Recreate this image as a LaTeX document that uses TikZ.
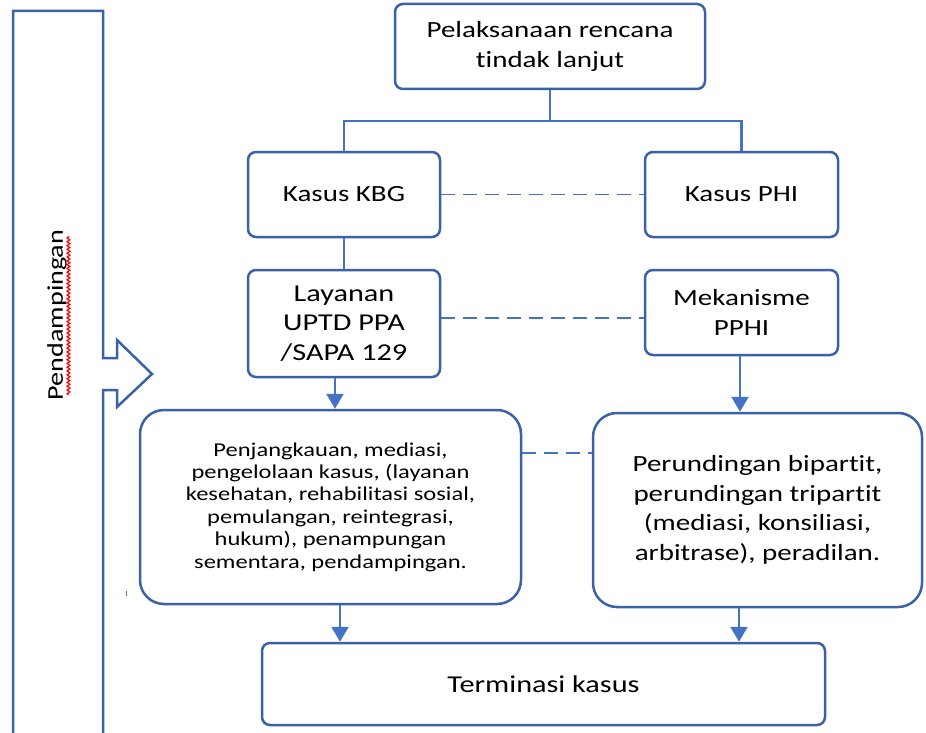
\documentclass[tikz,border=0pt]{standalone}
\usepackage{fontspec}
\setmainfont{Carlito}[FakeStretch=1.25, Ligatures=NoCommon]
\usetikzlibrary{arrows.meta,decorations.pathmorphing,calc}
\definecolor{boxblue}{HTML}{3B62A8}
\definecolor{linkblue}{HTML}{4472C4}
\tikzset{
  box/.style={draw=boxblue, line width=2.5pt, rounded corners=8pt, align=center,
    inner sep=0pt, fill=white},
  bigbox/.style={box, rounded corners=24pt},
  bigfont/.style={font=\fontsize{23.2}{29.5}\selectfont},
  largefont/.style={font=\fontsize{24.2}{29.5}\selectfont},
  smallfont/.style={font=\fontsize{19.6}{22.4}\selectfont},
  link/.style={draw=linkblue, line width=2.3pt},
  arr/.style={link, -{Triangle[width=17pt,length=15pt]}},
  dashlink/.style={draw=linkblue, line width=1.6pt, dash pattern=on 14pt off 8pt},
}
\begin{document}
\begin{tikzpicture}[x=1pt,y=-1pt]
\useasboundingbox (0,0) rectangle (926,733);
\clip (0,0) rectangle (926,733);

% side band with the arrow pointing into the chart
\draw[draw=boxblue, line width=2.5pt, line join=miter]
  (13,740) -- (13,11) -- (103,11) -- (103,358) -- (117,358) -- (117,340)
  -- (152,374) -- (117,407) -- (117,390) -- (103,390) -- (103,740);
\node[rotate=90, font=\fontsize{22.5}{24}\selectfont] (side) at (57,315) {Pendampingan};
\draw[red, line width=1.2pt, decorate,
  decoration={snake, amplitude=1.4pt, segment length=3.8pt}]
  (68.5,395) -- (68.5,236);

% boxes
\node[box, bigfont, minimum width=310pt, minimum height=85pt] (top) at (550,46.5)
  {Pelaksanaan rencana\\tindak lanjut};
\node[box, bigfont, minimum width=192pt, minimum height=85pt] (kbg) at (344,194.5)
  {Kasus KBG};
\node[box, bigfont, minimum width=193pt, minimum height=85pt] (phi) at (741.5,194.5)
  {Kasus PHI};
\node[box, largefont, minimum width=192pt, minimum height=107pt] (lay) at (344,323.5)
  {Layanan\\UPTD PPA\\/SAPA 129};
\node[box, bigfont, minimum width=193pt, minimum height=85pt] (mek) at (741.5,312.5)
  {Mekanisme\\PPHI};
\node[bigbox, smallfont, minimum width=381pt, minimum height=194pt] (lbig) at (330.5,507)
  {Penjangkauan, mediasi,\\pengelolaan kasus, (layanan\\kesehatan, rehabilitasi sosial,\\pemulangan, reintegrasi,\\hukum), penampungan\\sementara, pendampingan.};
\node[bigbox, bigfont, minimum width=329pt, minimum height=194pt] (rbig) at (757.5,510)
  {Perundingan bipartit,\\perundingan tripartit\\(mediasi, konsiliasi,\\arbitrase), peradilan.};
\node[box, largefont, minimum width=563pt, minimum height=82pt] (term) at (543.5,684)
  {Terminasi kasus};

% tree connectors
\coordinate (split) at (550,121);
\draw[link] (top.south) -- (split);
\draw[link] (kbg.north) |- (split) -| (phi.north);
\draw[link] (kbg.south) -- (lay.north);

% dashed links between the two tracks
\draw[dashlink] (kbg.east) -- (phi.west);
\draw[dashlink] (lay.east |- 0,318) -- (mek.west |- 0,318);
\draw[dashlink] (lbig.east |- 0,453) -- (rbig.west |- 0,453);

% arrows
\draw[arr] ([xshift=-9pt]lay.south) -- ([xshift=-9pt]lay.south |- lbig.north);
\draw[arr] ([xshift=-1.5pt]mek.south) -- ([xshift=-1.5pt]mek.south |- rbig.north);
\draw[arr] ([xshift=9.5pt]lbig.south) -- ([xshift=9.5pt]lbig.south |- term.north);
\draw[arr] ([xshift=-18.5pt]rbig.south) -- ([xshift=-18.5pt]rbig.south |- term.north);

% small stray tick
\draw[draw=linkblue, line width=1pt] (126,591) -- (126,596);
\end{tikzpicture}
\end{document}
